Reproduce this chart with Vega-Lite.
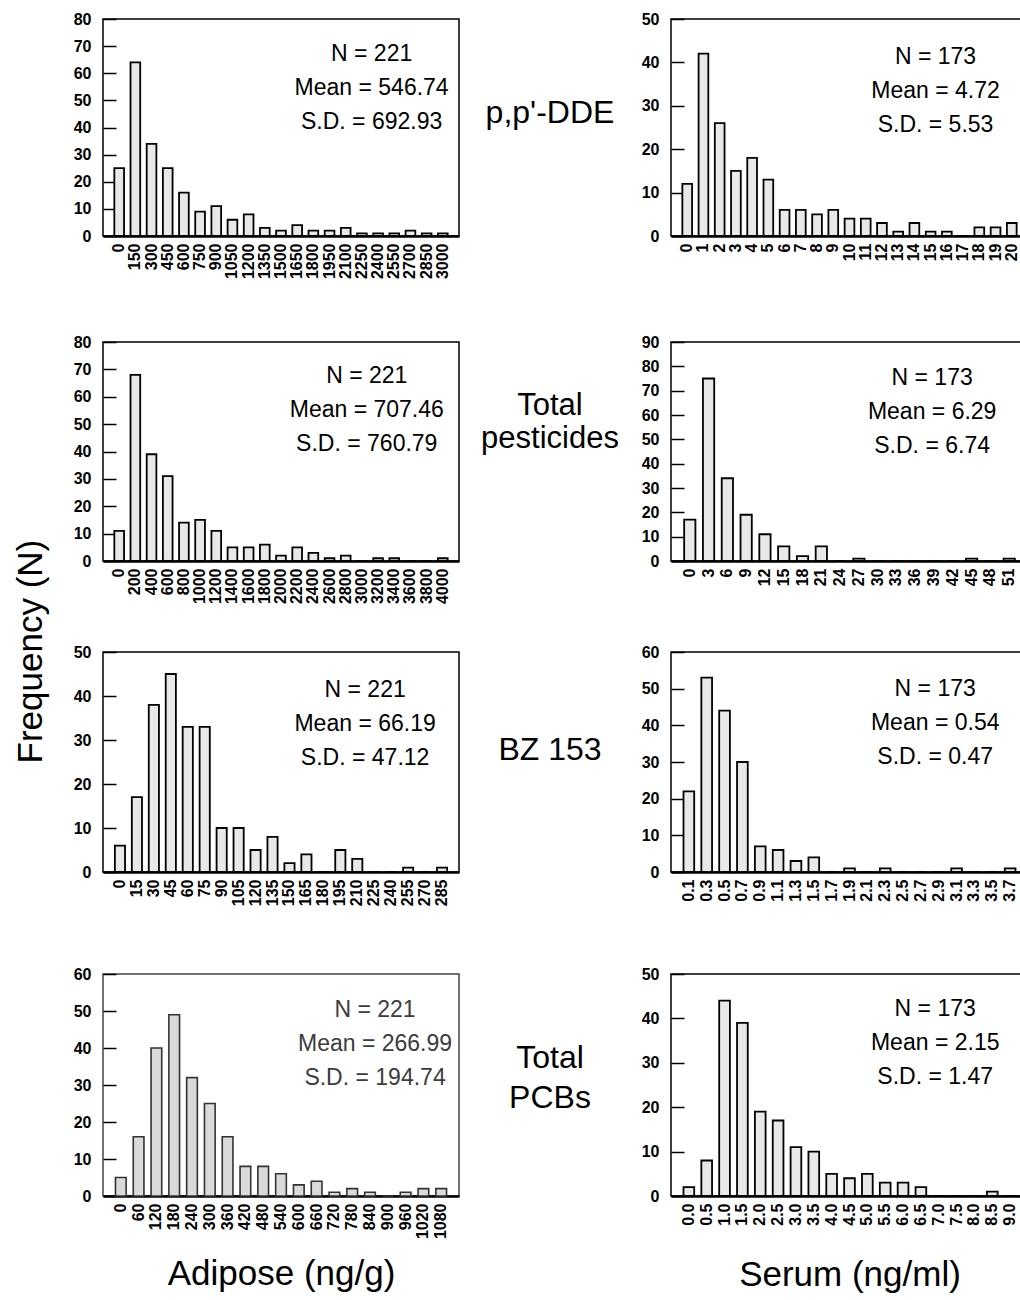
{
  "$schema": "https://vega.github.io/schema/vega-lite/v6.json",
  "background": "white",
  "padding": {"left": 14, "top": 10, "right": 0, "bottom": 0},
  "title": {"text": "Frequency (N)", "orient": "left", "anchor": "middle", "offset": 23, "font": "Liberation Sans", "fontSize": 35, "fontWeight": "normal", "color": "black"},
  "spacing": 38,
  "datasets": {
    "ddeAdipose": [
      {"bin": "0", "count": 25}, {"bin": "150", "count": 64}, {"bin": "300", "count": 34}, {"bin": "450", "count": 25},
      {"bin": "600", "count": 16}, {"bin": "750", "count": 9}, {"bin": "900", "count": 11}, {"bin": "1050", "count": 6},
      {"bin": "1200", "count": 8}, {"bin": "1350", "count": 3}, {"bin": "1500", "count": 2}, {"bin": "1650", "count": 4},
      {"bin": "1800", "count": 2}, {"bin": "1950", "count": 2}, {"bin": "2100", "count": 3}, {"bin": "2250", "count": 1},
      {"bin": "2400", "count": 1}, {"bin": "2550", "count": 1}, {"bin": "2700", "count": 2}, {"bin": "2850", "count": 1},
      {"bin": "3000", "count": 1}
    ],
    "ddeSerum": [
      {"bin": "0", "count": 12}, {"bin": "1", "count": 42}, {"bin": "2", "count": 26}, {"bin": "3", "count": 15},
      {"bin": "4", "count": 18}, {"bin": "5", "count": 13}, {"bin": "6", "count": 6}, {"bin": "7", "count": 6},
      {"bin": "8", "count": 5}, {"bin": "9", "count": 6}, {"bin": "10", "count": 4}, {"bin": "11", "count": 4},
      {"bin": "12", "count": 3}, {"bin": "13", "count": 1}, {"bin": "14", "count": 3}, {"bin": "15", "count": 1},
      {"bin": "16", "count": 1}, {"bin": "17", "count": 0}, {"bin": "18", "count": 2}, {"bin": "19", "count": 2},
      {"bin": "20", "count": 3}
    ],
    "pestAdipose": [
      {"bin": "0", "count": 11}, {"bin": "200", "count": 68}, {"bin": "400", "count": 39}, {"bin": "600", "count": 31},
      {"bin": "800", "count": 14}, {"bin": "1000", "count": 15}, {"bin": "1200", "count": 11}, {"bin": "1400", "count": 5},
      {"bin": "1600", "count": 5}, {"bin": "1800", "count": 6}, {"bin": "2000", "count": 2}, {"bin": "2200", "count": 5},
      {"bin": "2400", "count": 3}, {"bin": "2600", "count": 1}, {"bin": "2800", "count": 2}, {"bin": "3000", "count": 0},
      {"bin": "3200", "count": 1}, {"bin": "3400", "count": 1}, {"bin": "3600", "count": 0}, {"bin": "3800", "count": 0},
      {"bin": "4000", "count": 1}
    ],
    "pestSerum": [
      {"bin": "0", "count": 17}, {"bin": "3", "count": 75}, {"bin": "6", "count": 34}, {"bin": "9", "count": 19},
      {"bin": "12", "count": 11}, {"bin": "15", "count": 6}, {"bin": "18", "count": 2}, {"bin": "21", "count": 6},
      {"bin": "24", "count": 0}, {"bin": "27", "count": 1}, {"bin": "30", "count": 0}, {"bin": "33", "count": 0},
      {"bin": "36", "count": 0}, {"bin": "39", "count": 0}, {"bin": "42", "count": 0}, {"bin": "45", "count": 1},
      {"bin": "48", "count": 0}, {"bin": "51", "count": 1}
    ],
    "bzAdipose": [
      {"bin": "0", "count": 6}, {"bin": "15", "count": 17}, {"bin": "30", "count": 38}, {"bin": "45", "count": 45},
      {"bin": "60", "count": 33}, {"bin": "75", "count": 33}, {"bin": "90", "count": 10}, {"bin": "105", "count": 10},
      {"bin": "120", "count": 5}, {"bin": "135", "count": 8}, {"bin": "150", "count": 2}, {"bin": "165", "count": 4},
      {"bin": "180", "count": 0}, {"bin": "195", "count": 5}, {"bin": "210", "count": 3}, {"bin": "225", "count": 0},
      {"bin": "240", "count": 0}, {"bin": "255", "count": 1}, {"bin": "270", "count": 0}, {"bin": "285", "count": 1}
    ],
    "bzSerum": [
      {"bin": "0.1", "count": 22}, {"bin": "0.3", "count": 53}, {"bin": "0.5", "count": 44}, {"bin": "0.7", "count": 30},
      {"bin": "0.9", "count": 7}, {"bin": "1.1", "count": 6}, {"bin": "1.3", "count": 3}, {"bin": "1.5", "count": 4},
      {"bin": "1.7", "count": 0}, {"bin": "1.9", "count": 1}, {"bin": "2.1", "count": 0}, {"bin": "2.3", "count": 1},
      {"bin": "2.5", "count": 0}, {"bin": "2.7", "count": 0}, {"bin": "2.9", "count": 0}, {"bin": "3.1", "count": 1},
      {"bin": "3.3", "count": 0}, {"bin": "3.5", "count": 0}, {"bin": "3.7", "count": 1}
    ],
    "pcbAdipose": [
      {"bin": "0", "count": 5}, {"bin": "60", "count": 16}, {"bin": "120", "count": 40}, {"bin": "180", "count": 49},
      {"bin": "240", "count": 32}, {"bin": "300", "count": 25}, {"bin": "360", "count": 16}, {"bin": "420", "count": 8},
      {"bin": "480", "count": 8}, {"bin": "540", "count": 6}, {"bin": "600", "count": 3}, {"bin": "660", "count": 4},
      {"bin": "720", "count": 1}, {"bin": "780", "count": 2}, {"bin": "840", "count": 1}, {"bin": "900", "count": 0},
      {"bin": "960", "count": 1}, {"bin": "1020", "count": 2}, {"bin": "1080", "count": 2}
    ],
    "pcbSerum": [
      {"bin": "0.0", "count": 2}, {"bin": "0.5", "count": 8}, {"bin": "1.0", "count": 44}, {"bin": "1.5", "count": 39},
      {"bin": "2.0", "count": 19}, {"bin": "2.5", "count": 17}, {"bin": "3.0", "count": 11}, {"bin": "3.5", "count": 10},
      {"bin": "4.0", "count": 5}, {"bin": "4.5", "count": 4}, {"bin": "5.0", "count": 5}, {"bin": "5.5", "count": 3},
      {"bin": "6.0", "count": 3}, {"bin": "6.5", "count": 2}, {"bin": "7.0", "count": 0}, {"bin": "7.5", "count": 0},
      {"bin": "8.0", "count": 0}, {"bin": "8.5", "count": 1}, {"bin": "9.0", "count": 0}
    ]
  },
  "vconcat": [
    {
      "spacing": 53,
      "vconcat": [
        {
          "spacing": 10,
          "hconcat": [
            {
              "width": 356, "height": 217,
              "layer": [
                {
                  "data": {"name": "ddeAdipose"},
                  "mark": {"type": "bar", "fill": "#e8e8e8", "stroke": "black", "strokeWidth": 1.8},
                  "encoding": {
                    "x": {"field": "bin", "type": "ordinal", "scale": {"domain": ["0","150","300","450","600","750","900","1050","1200","1350","1500","1650","1800","1950","2100","2250","2400","2550","2700","2850","3000"], "paddingInner": 0.4, "paddingOuter": 0.7}, "axis": {"title": null}},
                    "y": {"field": "count", "type": "quantitative", "scale": {"domain": [0, 80], "nice": false}, "axis": {"title": null, "values": [0,10,20,30,40,50,60,70,80]}}
                  }
                },
                {
                  "data": {"values": [{"stats": "N = 221\nMean = 546.74\nS.D. = 692.93"}]},
                  "mark": {"type": "text", "fontSize": 23, "lineHeight": 34, "lineBreak": "\n", "align": "center", "baseline": "middle"},
                  "encoding": {
                    "text": {"field": "stats", "type": "nominal"},
                    "x": {"datum": "2250", "type": "ordinal", "bandPosition": 1.5, "axis": {"title": null}},
                    "y": {"datum": 67.1, "type": "quantitative", "axis": {"title": null, "values": [0,10,20,30,40,50,60,70,80]}}
                  }
                }
              ]
            },
            {
              "width": 160, "height": 188,
              "view": {"stroke": null},
              "data": {"values": [{"label": "p,p'-DDE"}]},
              "mark": {"type": "text", "fontSize": 32, "lineBreak": "\n", "lineHeight": 32, "align": "center", "baseline": "middle"},
              "encoding": {"text": {"field": "label", "type": "nominal"}}
            },
            {
              "width": 357, "height": 217,
              "layer": [
                {
                  "data": {"name": "ddeSerum"},
                  "mark": {"type": "bar", "fill": "#e8e8e8", "stroke": "black", "strokeWidth": 1.8},
                  "encoding": {
                    "x": {"field": "bin", "type": "ordinal", "scale": {"domain": ["0","1","2","3","4","5","6","7","8","9","10","11","12","13","14","15","16","17","18","19","20"], "paddingInner": 0.4, "paddingOuter": 0.7}, "axis": {"title": null}},
                    "y": {"field": "count", "type": "quantitative", "scale": {"domain": [0, 50], "nice": false}, "axis": {"title": null, "values": [0,10,20,30,40,50]}}
                  }
                },
                {
                  "data": {"values": [{"stats": "N = 173\nMean = 4.72\nS.D. = 5.53"}]},
                  "mark": {"type": "text", "fontSize": 23, "lineHeight": 34, "lineBreak": "\n", "align": "center", "baseline": "middle"},
                  "encoding": {
                    "text": {"field": "stats", "type": "nominal"},
                    "x": {"datum": "15", "type": "ordinal", "bandPosition": 1.0, "axis": {"title": null}},
                    "y": {"datum": 41.3, "type": "quantitative", "axis": {"title": null, "values": [0,10,20,30,40,50]}}
                  }
                }
              ]
            }
          ]
        },
        {
          "spacing": 10,
          "hconcat": [
            {
              "width": 356, "height": 219,
              "layer": [
                {
                  "data": {"name": "pestAdipose"},
                  "mark": {"type": "bar", "fill": "#e8e8e8", "stroke": "black", "strokeWidth": 1.8},
                  "encoding": {
                    "x": {"field": "bin", "type": "ordinal", "scale": {"domain": ["0","200","400","600","800","1000","1200","1400","1600","1800","2000","2200","2400","2600","2800","3000","3200","3400","3600","3800","4000"], "paddingInner": 0.4, "paddingOuter": 0.7}, "axis": {"title": null}},
                    "y": {"field": "count", "type": "quantitative", "scale": {"domain": [0, 80], "nice": false}, "axis": {"title": null, "values": [0,10,20,30,40,50,60,70,80]}}
                  }
                },
                {
                  "data": {"values": [{"stats": "N = 221\nMean = 707.46\nS.D. = 760.79"}]},
                  "mark": {"type": "text", "fontSize": 23, "lineHeight": 34, "lineBreak": "\n", "align": "center", "baseline": "middle"},
                  "encoding": {
                    "text": {"field": "stats", "type": "nominal"},
                    "x": {"datum": "3000", "type": "ordinal", "bandPosition": 1.0, "axis": {"title": null}},
                    "y": {"datum": 67.4, "type": "quantitative", "axis": {"title": null, "values": [0,10,20,30,40,50,60,70,80]}}
                  }
                }
              ]
            },
            {
              "width": 160, "height": 128,
              "view": {"stroke": null},
              "data": {"values": [{"label": "Total\npesticides"}]},
              "mark": {"type": "text", "fontSize": 31, "lineBreak": "\n", "lineHeight": 33, "align": "center", "baseline": "middle"},
              "encoding": {"text": {"field": "label", "type": "nominal"}}
            },
            {
              "width": 357, "height": 219,
              "layer": [
                {
                  "data": {"name": "pestSerum"},
                  "mark": {"type": "bar", "fill": "#e8e8e8", "stroke": "black", "strokeWidth": 1.8},
                  "encoding": {
                    "x": {"field": "bin", "type": "ordinal", "scale": {"domain": ["0","3","6","9","12","15","18","21","24","27","30","33","36","39","42","45","48","51"], "paddingInner": 0.4, "paddingOuter": 0.7}, "axis": {"title": null}},
                    "y": {"field": "count", "type": "quantitative", "scale": {"domain": [0, 90], "nice": false}, "axis": {"title": null, "values": [0,10,20,30,40,50,60,70,80,90]}}
                  }
                },
                {
                  "data": {"values": [{"stats": "N = 173\nMean = 6.29\nS.D. = 6.74"}]},
                  "mark": {"type": "text", "fontSize": 23, "lineHeight": 34, "lineBreak": "\n", "align": "center", "baseline": "middle"},
                  "encoding": {
                    "text": {"field": "stats", "type": "nominal"},
                    "x": {"datum": "39", "type": "ordinal", "bandPosition": 0.33, "axis": {"title": null}},
                    "y": {"datum": 75.2, "type": "quantitative", "axis": {"title": null, "values": [0,10,20,30,40,50,60,70,80,90]}}
                  }
                }
              ]
            }
          ]
        }
      ]
    },
    {
      "spacing": 58,
      "vconcat": [
        {
          "spacing": 10,
          "hconcat": [
            {
              "width": 356, "height": 220,
              "layer": [
                {
                  "data": {"name": "bzAdipose"},
                  "mark": {"type": "bar", "fill": "#e8e8e8", "stroke": "black", "strokeWidth": 1.8},
                  "encoding": {
                    "x": {"field": "bin", "type": "ordinal", "scale": {"domain": ["0","15","30","45","60","75","90","105","120","135","150","165","180","195","210","225","240","255","270","285"], "paddingInner": 0.4, "paddingOuter": 0.7}, "axis": {"title": null}},
                    "y": {"field": "count", "type": "quantitative", "scale": {"domain": [0, 50], "nice": false}, "axis": {"title": null, "values": [0,10,20,30,40,50]}}
                  }
                },
                {
                  "data": {"values": [{"stats": "N = 221\nMean = 66.19\nS.D. = 47.12"}]},
                  "mark": {"type": "text", "fontSize": 23, "lineHeight": 34, "lineBreak": "\n", "align": "center", "baseline": "middle"},
                  "encoding": {
                    "text": {"field": "stats", "type": "nominal"},
                    "x": {"datum": "210", "type": "ordinal", "bandPosition": 1.27, "axis": {"title": null}},
                    "y": {"datum": 41.4, "type": "quantitative", "axis": {"title": null, "values": [0,10,20,30,40,50]}}
                  }
                }
              ]
            },
            {
              "width": 160, "height": 196,
              "view": {"stroke": null},
              "data": {"values": [{"label": "BZ 153"}]},
              "mark": {"type": "text", "fontSize": 32, "lineBreak": "\n", "lineHeight": 32, "align": "center", "baseline": "middle"},
              "encoding": {"text": {"field": "label", "type": "nominal"}}
            },
            {
              "width": 357, "height": 220,
              "layer": [
                {
                  "data": {"name": "bzSerum"},
                  "mark": {"type": "bar", "fill": "#e8e8e8", "stroke": "black", "strokeWidth": 1.8},
                  "encoding": {
                    "x": {"field": "bin", "type": "ordinal", "scale": {"domain": ["0.1","0.3","0.5","0.7","0.9","1.1","1.3","1.5","1.7","1.9","2.1","2.3","2.5","2.7","2.9","3.1","3.3","3.5","3.7"], "paddingInner": 0.4, "paddingOuter": 0.7}, "axis": {"title": null}},
                    "y": {"field": "count", "type": "quantitative", "scale": {"domain": [0, 60], "nice": false}, "axis": {"title": null, "values": [0,10,20,30,40,50,60]}}
                  }
                },
                {
                  "data": {"values": [{"stats": "N = 173\nMean = 0.54\nS.D. = 0.47"}]},
                  "mark": {"type": "text", "fontSize": 23, "lineHeight": 34, "lineBreak": "\n", "align": "center", "baseline": "middle"},
                  "encoding": {
                    "text": {"field": "stats", "type": "nominal"},
                    "x": {"datum": "2.9", "type": "ordinal", "bandPosition": 0.17, "axis": {"title": null}},
                    "y": {"datum": 50.0, "type": "quantitative", "axis": {"title": null, "values": [0,10,20,30,40,50,60]}}
                  }
                }
              ]
            }
          ]
        },
        {
          "spacing": 10,
          "hconcat": [
            {
              "width": 356, "height": 222,
              "view": {"stroke": "#444"},
              "layer": [
                {
                  "data": {"name": "pcbAdipose"},
                  "mark": {"type": "bar", "fill": "#dadada", "stroke": "#333", "strokeWidth": 1.6},
                  "encoding": {
                    "x": {"field": "bin", "type": "ordinal", "scale": {"domain": ["0","60","120","180","240","300","360","420","480","540","600","660","720","780","840","900","960","1020","1080"], "paddingInner": 0.4, "paddingOuter": 0.7}, "axis": {"title": "Adipose (ng/g)", "titlePadding": 18}},
                    "y": {"field": "count", "type": "quantitative", "scale": {"domain": [0, 60], "nice": false}, "axis": {"title": null, "values": [0,10,20,30,40,50,60]}}
                  }
                },
                {
                  "data": {"values": [{"stats": "N = 221\nMean = 266.99\nS.D. = 194.74"}]},
                  "mark": {"type": "text", "fontSize": 23, "lineHeight": 34, "lineBreak": "\n", "align": "center", "baseline": "middle", "color": "#3c3c3c"},
                  "encoding": {
                    "text": {"field": "stats", "type": "nominal"},
                    "x": {"datum": "840", "type": "ordinal", "bandPosition": 0.97, "axis": {"title": "Adipose (ng/g)", "titlePadding": 18}},
                    "y": {"datum": 50.3, "type": "quantitative", "axis": {"title": null, "values": [0,10,20,30,40,50,60]}}
                  }
                }
              ]
            },
            {
              "width": 160, "height": 168,
              "view": {"stroke": null},
              "data": {"values": [{"label": "Total\nPCBs"}]},
              "mark": {"type": "text", "fontSize": 32, "lineBreak": "\n", "lineHeight": 40, "align": "center", "baseline": "middle"},
              "encoding": {"text": {"field": "label", "type": "nominal"}}
            },
            {
              "width": 357, "height": 222,
              "layer": [
                {
                  "data": {"name": "pcbSerum"},
                  "mark": {"type": "bar", "fill": "#e8e8e8", "stroke": "black", "strokeWidth": 1.8},
                  "encoding": {
                    "x": {"field": "bin", "type": "ordinal", "scale": {"domain": ["0.0","0.5","1.0","1.5","2.0","2.5","3.0","3.5","4.0","4.5","5.0","5.5","6.0","6.5","7.0","7.5","8.0","8.5","9.0"], "paddingInner": 0.4, "paddingOuter": 0.7}, "axis": {"title": "Serum (ng/ml)", "titlePadding": 32}},
                    "y": {"field": "count", "type": "quantitative", "scale": {"domain": [0, 50], "nice": false}, "axis": {"title": null, "values": [0,10,20,30,40,50]}}
                  }
                },
                {
                  "data": {"values": [{"stats": "N = 173\nMean = 2.15\nS.D. = 1.47"}]},
                  "mark": {"type": "text", "fontSize": 23, "lineHeight": 34, "lineBreak": "\n", "align": "center", "baseline": "middle"},
                  "encoding": {
                    "text": {"field": "stats", "type": "nominal"},
                    "x": {"datum": "7.0", "type": "ordinal", "bandPosition": 0.17, "axis": {"title": "Serum (ng/ml)", "titlePadding": 32}},
                    "y": {"datum": 42.2, "type": "quantitative", "axis": {"title": null, "values": [0,10,20,30,40,50]}}
                  }
                }
              ]
            }
          ]
        }
      ]
    }
  ],
  "config": {
    "font": "Liberation Sans",
    "view": {"stroke": "black", "strokeWidth": 1.5},
    "text": {"font": "Liberation Sans", "color": "black"},
    "axis": {"labelFont": "Liberation Sans", "labelColor": "black", "titleFont": "Liberation Sans", "titleFontWeight": "normal", "titleColor": "black", "titleFontSize": 35, "grid": false},
    "axisX": {"ticks": false, "domainColor": "black", "domainWidth": 2.5, "labelAngle": 270, "labelFontWeight": "bold", "labelFontSize": 16, "labelPadding": 7, "labelOverlap": false},
    "axisY": {"domain": false, "ticks": true, "tickSize": -13, "tickWidth": 1.5, "tickColor": "black", "labelFontWeight": "bold", "labelFontSize": 16, "labelPadding": 25, "labelOverlap": false}
  }
}
